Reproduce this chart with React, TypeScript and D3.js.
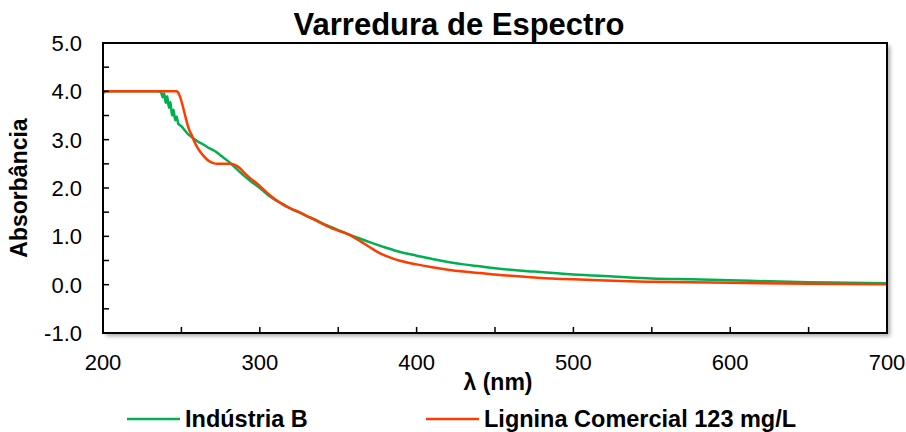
import React, { useEffect, useRef } from 'react'
import * as d3 from 'd3'

// Indústria B
const greenNm = [
  200, 202, 210, 220, 230, 235, 237, 238, 239, 240, 241, 242, 243, 244, 245,
  246, 247, 248, 250, 252, 254, 256, 258, 260, 264, 268, 272, 276, 280, 285,
  290, 295, 300, 305, 310, 315, 320, 325, 330, 335, 340, 345, 350, 355, 360,
  370, 380, 390, 400, 410, 420, 430, 440, 450, 475, 500, 525, 550, 575, 600,
  625, 650, 675, 700,
]
const greenAbs = [
  3.96, 4.0, 4.0, 4.0, 4.0, 4.0, 3.98, 3.88, 3.96, 3.76, 3.9, 3.66, 3.78, 3.5,
  3.62, 3.4, 3.48, 3.33, 3.28, 3.2, 3.12, 3.07, 3.02, 2.97, 2.9, 2.82, 2.75,
  2.65, 2.55, 2.4, 2.25, 2.12, 2.0, 1.86, 1.75, 1.66, 1.57, 1.5, 1.42, 1.35,
  1.27, 1.2, 1.13, 1.06, 1.0, 0.88, 0.77, 0.67, 0.6, 0.53, 0.47, 0.42, 0.38,
  0.34, 0.27, 0.21, 0.17, 0.13, 0.11, 0.09, 0.07, 0.05, 0.04, 0.03,
]

// Lignina Comercial 123 mg/L
const redNm = [
  200, 220, 240, 247, 248, 249, 250, 251, 252, 253, 254, 255, 256.5, 258, 260,
  262, 264, 266, 268, 270, 273, 277, 281, 284, 287, 290, 294, 298, 302, 306,
  310, 315, 320, 325, 330, 335, 340, 345, 350, 355, 360, 365, 370, 375, 380,
  385, 390, 400, 410, 420, 430, 450, 475, 500, 525, 550, 600, 650, 700,
]
const redAbs = [
  4.0, 4.0, 4.0, 4.0, 3.97, 3.9, 3.8, 3.68, 3.55, 3.42, 3.3, 3.2, 3.1, 2.98,
  2.85, 2.75, 2.67, 2.6, 2.55, 2.52, 2.5, 2.5, 2.5, 2.48, 2.42, 2.32, 2.2, 2.1,
  1.98, 1.86, 1.76, 1.65, 1.57, 1.5, 1.42, 1.34, 1.26, 1.18, 1.12, 1.06, 0.98,
  0.88, 0.78, 0.68, 0.6, 0.54, 0.49, 0.42, 0.36, 0.31, 0.27, 0.21, 0.15, 0.11,
  0.08, 0.06, 0.04, 0.02, 0.01,
]

const xTicks = [200, 300, 400, 500, 600, 700]
const yTicks = [-1, 0, 1, 2, 3, 4, 5]

const series = [
  { name: 'Indústria B', color: '#00B050', nm: greenNm, abs: greenAbs },
  { name: 'Lignina Comercial 123 mg/L', color: '#FF3C00', nm: redNm, abs: redAbs },
]

const FONT = '"Liberation Sans", Arial, sans-serif'

const App: React.FC = () => {
  const chartRef = useRef<SVGSVGElement>(null)

  useEffect(() => {
    const svg = d3.select(chartRef.current)
    svg.selectAll('*').remove()

    const W = 906
    const H = 432
    const margin = { top: 43, right: 19, bottom: 99, left: 103 }
    const width = W - margin.left - margin.right
    const height = H - margin.top - margin.bottom

    const x = d3.scaleLinear().domain([200, 700]).range([0, width])
    const y = d3.scaleLinear().domain([-1, 5]).range([height, 0])

    const defs = svg.append('defs')
    const f = defs.append('filter').attr('id', 'shadow').attr('x', '-5%').attr('y', '-5%').attr('width', '115%').attr('height', '120%')
    f.append('feDropShadow')
      .attr('dx', 3)
      .attr('dy', 3)
      .attr('stdDeviation', 2)
      .attr('flood-color', '#000')
      .attr('flood-opacity', 0.35)
    defs
      .append('clipPath')
      .attr('id', 'plotclip')
      .append('rect')
      .attr('width', width)
      .attr('height', height)

    svg
      .append('text')
      .attr('x', 459)
      .attr('y', 35)
      .attr('text-anchor', 'middle')
      .style('font-family', FONT)
      .style('font-weight', 'bold')
      .style('font-size', '31px')
      .text('Varredura de Espectro')

    const g = svg
      .append('g')
      .attr('transform', `translate(${margin.left},${margin.top})`)

    g.append('rect')
      .attr('width', width)
      .attr('height', height)
      .attr('fill', '#fff')
      .attr('filter', 'url(#shadow)')

    // lines
    const line = d3
      .line<[number, number]>()
      .x((d) => x(d[0]))
      .y((d) => y(d[1]))
      .curve(d3.curveMonotoneX)

    const lines = g.append('g').attr('clip-path', 'url(#plotclip)')
    series.forEach((s) => {
      const pts = s.nm.map((v, i) => [v, s.abs[i]] as [number, number])
      lines
        .append('path')
        .attr('d', line(pts))
        .attr('fill', 'none')
        .attr('stroke', s.color)
        .attr('stroke-width', 2.5)
        .attr('stroke-linejoin', 'round')
    })

    // inner ticks
    const yMinor = d3.range(-1, 5.01, 0.5)
    g.selectAll('.ytick')
      .data(yMinor)
      .enter()
      .append('line')
      .attr('x1', 0)
      .attr('x2', 6)
      .attr('y1', (d) => y(d))
      .attr('y2', (d) => y(d))
      .attr('stroke', '#000')
      .attr('stroke-width', 1.5)
    const xMinor = d3.range(200, 701, 50)
    g.selectAll('.xtick')
      .data(xMinor)
      .enter()
      .append('line')
      .attr('x1', (d) => x(d))
      .attr('x2', (d) => x(d))
      .attr('y1', height)
      .attr('y2', height - 6)
      .attr('stroke', '#000')
      .attr('stroke-width', 1.5)

    g.append('rect')
      .attr('width', width)
      .attr('height', height)
      .attr('fill', 'none')
      .attr('stroke', '#000')
      .attr('stroke-width', 2)

    // tick labels (plain hyphen for negatives, as in the original)
    g.selectAll('.ylab')
      .data(yTicks)
      .enter()
      .append('text')
      .attr('x', -21)
      .attr('y', (d) => y(d))
      .attr('dy', '0.36em')
      .attr('text-anchor', 'end')
      .style('font-family', FONT)
      .style('font-size', '22px')
      .text((d) => d.toFixed(1))

    g.selectAll('.xlab')
      .data(xTicks)
      .enter()
      .append('text')
      .attr('x', (d) => x(d))
      .attr('y', height + 37)
      .attr('text-anchor', 'middle')
      .style('font-family', FONT)
      .style('font-size', '22px')
      .text((d) => d)

    // axis titles
    svg
      .append('text')
      .attr('transform', 'translate(27,188) rotate(-90)')
      .attr('text-anchor', 'middle')
      .style('font-family', FONT)
      .style('font-weight', 'bold')
      .style('font-size', '23px')
      .text('Absorbância')

    svg
      .append('text')
      .attr('x', 498)
      .attr('y', 390)
      .attr('text-anchor', 'middle')
      .style('font-family', FONT)
      .style('font-weight', 'bold')
      .style('font-size', '23px')
      .text('λ (nm)')

    // legend
    const legendX = [127, 426]
    series.forEach((s, i) => {
      const lg = svg.append('g').attr('transform', `translate(${legendX[i]},419)`)
      lg.append('line')
        .attr('x1', 0)
        .attr('x2', 53)
        .attr('stroke', s.color)
        .attr('stroke-width', 2.5)
      lg.append('text')
        .attr('x', 58)
        .attr('y', 8)
        .style('font-family', FONT)
        .style('font-weight', 'bold')
        .style('font-size', '23.5px')
        .text(s.name)
    })
  }, [])

  return (
    <div style={{ position: 'absolute', left: 0, top: 0 }}>
      <svg ref={chartRef} width={906} height={432} style={{ display: 'block', background: '#fff' }}></svg>
    </div>
  )
}

export default App
